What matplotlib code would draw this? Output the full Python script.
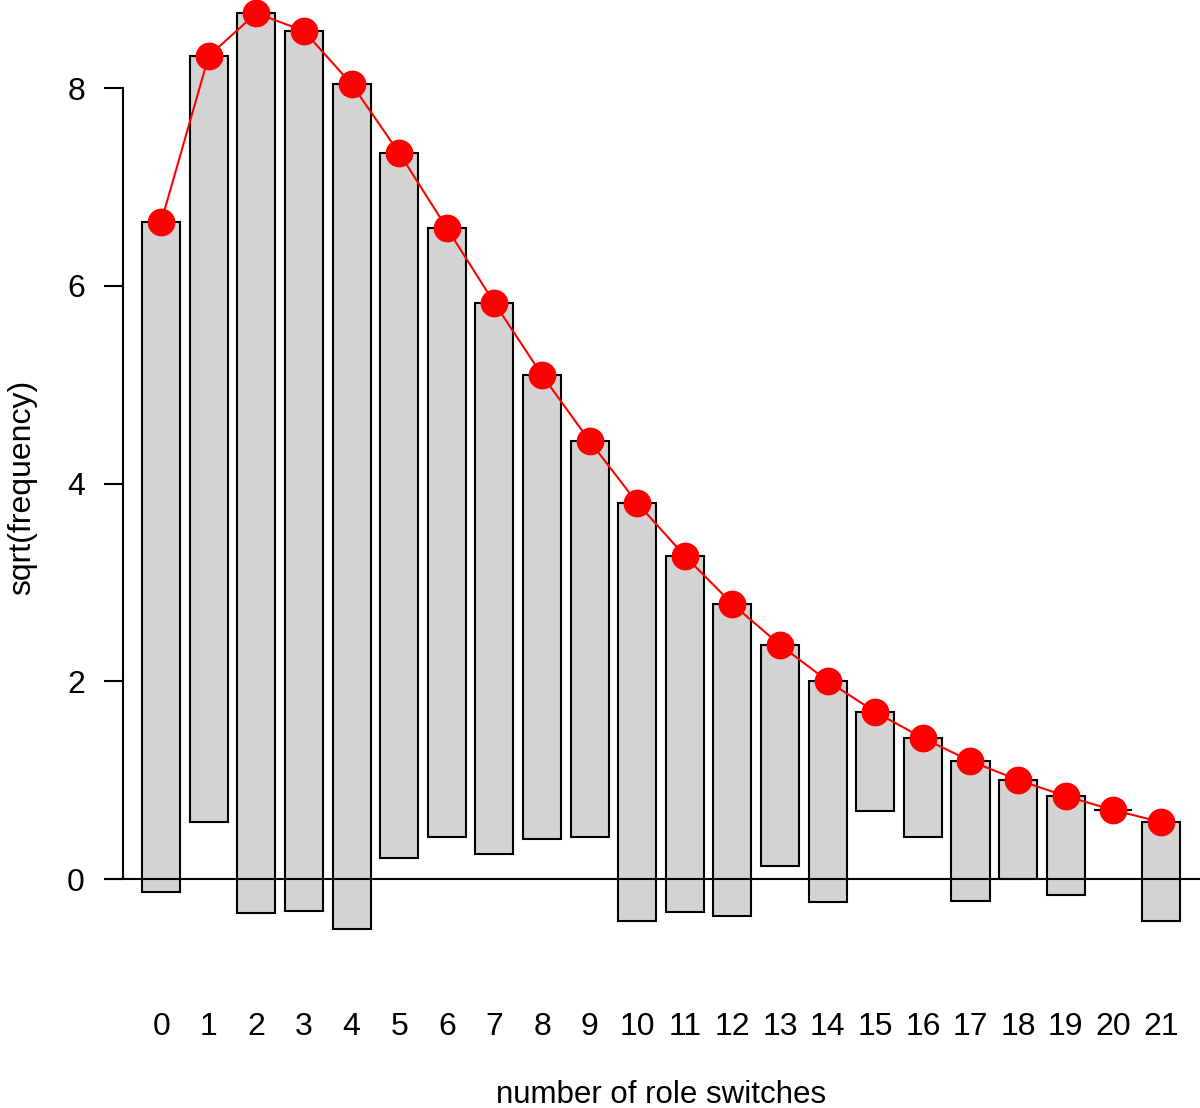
import matplotlib
matplotlib.use("Agg")
import matplotlib.pyplot as plt
import numpy as np

plt.rcParams['font.family'] = ['Liberation Sans', 'DejaVu Sans']

switches = list(range(22))
tick_labels = [str(s) for s in switches]
# sqrt of expected (fitted) frequencies – red points / bar tops
sqrt_fitted = [6.645, 8.324, 8.758, 8.576, 8.040, 7.343, 6.584, 5.826, 5.097, 4.430,
               3.803, 3.267, 2.781, 2.367, 2.003, 1.689, 1.426, 1.193, 1.001, 0.839,
               0.698, 0.576]
# sqrt of observed frequencies – bar heights hanging from the fitted curve
sqrt_observed = [6.776, 7.748, 9.102, 8.900, 8.546, 7.131, 6.159, 5.573, 4.692, 4.005,
                 4.228, 3.601, 3.155, 2.236, 2.236, 1.000, 1.000, 1.414, 1.000, 1.000,
                 0.000, 1.000]

fig = plt.figure(figsize=(12, 11.08), dpi=100)
ax = fig.add_axes([0.08667, 0.1174, 0.9133, 0.8826])
ax.set_xlim(-1.2, 21.82)
ax.set_ylim(-1.0, 8.89)

x = np.array(switches)
fit = np.array(sqrt_fitted)
obs = np.array(sqrt_observed)
ax.bar(x, obs, bottom=fit - obs, width=0.8, color='#d3d3d3', edgecolor='black',
       linewidth=1.5, zorder=2, clip_on=False)
ax.axhline(0, color='black', linewidth=1.5, zorder=3)
ax.plot(x, fit, color='red', linewidth=1.5, zorder=4, clip_on=False)
ax.plot(x, fit, 'o', color='red', markersize=19, zorder=5, clip_on=False)

for s in ['top', 'right', 'bottom']:
    ax.spines[s].set_visible(False)
ax.spines['left'].set_position(('data', -0.8))
ax.spines['left'].set_bounds(0, 8)
ax.spines['left'].set_linewidth(1.5)
ax.set_yticks([0, 2, 4, 6, 8])
ax.set_yticklabels(['0', '2', '4', '6', '8'])
ax.tick_params(axis='y', length=13.7, width=1.5, labelsize=23, pad=13.7)
ax.set_xticks(switches)
ax.set_xticklabels(tick_labels)
ax.tick_params(axis='x', length=0, labelsize=23, pad=24.5)

fig.text(661/1200, 1 - 1103/1108, 'number of role switches', ha='center', va='baseline', fontsize=22.5)
fig.text(22/1200, 1 - 487/1108, 'sqrt(frequency)', ha='center', va='center', fontsize=23, rotation=90)

fig.savefig('out.png', dpi=100)
